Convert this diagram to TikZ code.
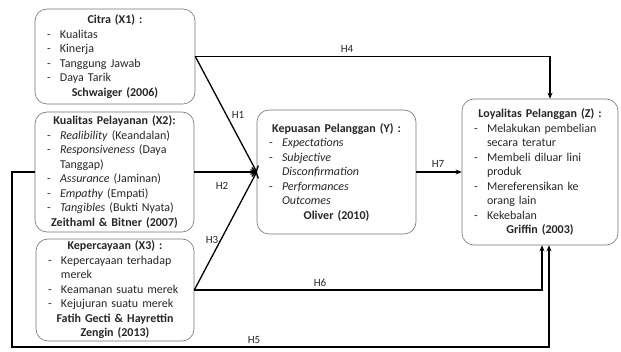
\documentclass[tikz,border=0pt]{standalone}
\usepackage{fontspec}
\setmainfont{Carlito}
\usetikzlibrary{arrows.meta}

\newcommand{\boxhead}[1]{{\centering\textbf{#1}\par}}
\newcommand{\dashitem}[1]{{\hangindent=20pt\hangafter=1\noindent\makebox[20pt][l]{\hspace{7pt}-}#1\par}}
\newcommand{\wrap}{\hfil\break}

\tikzset{
  varbox/.style={draw=black!55, line width=0.6pt, rounded corners=12pt,
    inner xsep=5pt, inner ysep=1pt, align=left, text=black!85,
    font=\fontsize{12}{14.5}\selectfont},
  hypline/.style={line width=1.3pt, -{Stealth[length=6pt,width=5pt]}},
  hypopen/.style={line width=1.3pt, -{Straight Barb[length=4pt,width=9pt]}},
  hlabel/.style={inner sep=0pt, font=\fontsize{11}{12}\selectfont, text=black!85}
}

\begin{document}
\begin{tikzpicture}[x=1pt,y=-1pt]
\useasboundingbox (0,0) rectangle (621,352);

\node[varbox, text width=150pt, minimum height=95pt] (x1) at (115,56.5) {%
\boxhead{Citra (X1) :}
\dashitem{Kualitas}
\dashitem{Kinerja}
\dashitem{Tanggung Jawab}
\dashitem{Daya Tarik}
\boxhead{Schwaiger (2006)}};

\node[varbox, text width=149pt, minimum height=120pt] (x2) at (114.5,172) {%
\boxhead{Kualitas Pelayanan (X2):}
\dashitem{\textit{Realibility} (Keandalan)}
\dashitem{\textit{Responsiveness} (Daya\wrap Tanggap)}
\dashitem{\textit{Assurance} (Jaminan)}
\dashitem{\textit{Empathy} (Empati)}
\dashitem{\textit{Tangibles} (Bukti Nyata)}
\boxhead{Zeithaml \& Bitner (2007)}};

\node[varbox, text width=148pt, minimum height=102pt] (x3) at (115,290) {%
\boxhead{Kepercayaan (X3) :}
\dashitem{Kepercayaan terhadap\wrap merek}
\dashitem{Keamanan suatu merek}
\dashitem{Kejujuran suatu merek}
\boxhead{Fatih Gecti \& Hayrettin\\Zengin (2013)}};

\node[varbox, text width=149pt, minimum height=124pt] (y) at (336.5,172) {%
\boxhead{Kepuasan Pelanggan (Y) :}
\dashitem{\textit{Expectations}}
\dashitem{\textit{Subjective\wrap Disconfirmation}}
\dashitem{\textit{Performances\wrap Outcomes}}
\boxhead{Oliver (2010)}};

\node[varbox, text width=146pt, minimum height=146pt] (z) at (540,172) {%
\boxhead{Loyalitas Pelanggan (Z) :}
\dashitem{Melakukan pembelian\wrap secara teratur}
\dashitem{Membeli diluar lini\wrap produk}
\dashitem{Mereferensikan ke\wrap orang lain}
\dashitem{Kekebalan}
\boxhead{Griffin (2003)}};

\coordinate (h5corner) at (12,347);

\draw[hypline] (x1.east) -| ([xshift=10pt]z.north);
\draw[hypopen] (x1.east) -- (y.west);
\draw[hypopen] (x2.east) -- (y.west);
\draw[hypopen] (x3.east) -- (y.west);
\draw[hypline] (y.east) -- (z.west);
\draw[hypline] (x3.east) -| ([xshift=2pt]z.south);
\draw[hypline] (x2.west) -| (h5corner) -| ([xshift=9pt]z.south);

\node[hlabel] (h4) at (347,49) {H4};
\node[hlabel] (h1) at (238,115) {H1};
\node[hlabel] (h2) at (222,186) {H2};
\node[hlabel] (h3) at (212,240) {H3};
\node[hlabel] (h6) at (320,283) {H6};
\node[hlabel] (h5) at (254,340) {H5};
\node[hlabel] (h7) at (438,164) {H7};
\end{tikzpicture}
\end{document}
